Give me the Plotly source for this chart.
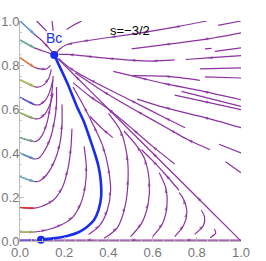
import plotly.graph_objects as go
import math

# ---------------- data ----------------
BC_POINT = (0.155, 0.845)
SADDLE_POINT = (0.095, 0.006)

blue_x = [0.095, 0.15, 0.213, 0.265, 0.303, 0.335, 0.355, 0.367, 0.365, 0.355, 0.338, 0.318, 0.29, 0.258, 0.213, 0.155]
blue_y = [0.006, 0.012, 0.023, 0.040, 0.064, 0.095, 0.14, 0.20, 0.278, 0.34, 0.40, 0.46, 0.54, 0.61, 0.72, 0.845]

# left-edge streamlines (start colour, points in flow direction)
left_colors = ["#5DA5DA", "#5DBB8A", "#F0882A", "#A9CC48", "#4060D8", "#8CC850",
               "#6CC07A", "#4AA0C8", "#5CC0B0", "#E8302A", "#A0C850", "#6A5ACD"]
left_lines = [
    [(0, 1.0), (0.065, 0.94), (0.095, 0.915), (0.13, 0.878), (0.15, 0.855)],
    [(0, 0.913), (0.065, 0.878), (0.10, 0.865), (0.14, 0.852)],
    [(0, 0.833), (0.065, 0.79), (0.09, 0.782), (0.12, 0.782), (0.138, 0.798)],
    [(0, 0.733), (0.065, 0.702), (0.085, 0.700), (0.11, 0.712), (0.13, 0.74), (0.142, 0.78)],
    [(0, 0.653), (0.065, 0.62), (0.09, 0.62), (0.115, 0.64), (0.135, 0.68), (0.148, 0.73)],
    [(0, 0.583), (0.065, 0.556), (0.09, 0.558), (0.115, 0.58), (0.135, 0.62), (0.15, 0.67)],
    [(0, 0.47), (0.065, 0.452), (0.08, 0.457), (0.10, 0.48), (0.12, 0.53), (0.135, 0.60), (0.145, 0.68), (0.15, 0.75)],
    [(0, 0.40), (0.065, 0.373), (0.085, 0.377), (0.105, 0.40), (0.135, 0.46), (0.155, 0.54), (0.165, 0.62), (0.165, 0.70)],
    [(0, 0.293), (0.065, 0.27), (0.09, 0.274), (0.12, 0.30), (0.155, 0.36), (0.18, 0.44), (0.19, 0.53), (0.19, 0.62)],
    [(0, 0.152), (0.065, 0.149), (0.10, 0.158), (0.15, 0.185), (0.19, 0.24), (0.215, 0.32), (0.23, 0.42), (0.235, 0.51)],
    [(0, 0.041), (0.065, 0.041), (0.12, 0.05), (0.19, 0.075), (0.24, 0.11), (0.275, 0.17), (0.295, 0.25), (0.30, 0.34), (0.29, 0.43)],
    [(0, 0.004), (0.065, 0.004), (0.085, 0.004)],
]

# purple streamlines, points in flow direction
purple_lines = [
    # fan above the diagonal, flowing towards Bc
    [(0.845, 1.0), (0.70, 0.972), (0.56, 0.948), (0.41, 0.926), (0.285, 0.908), (0.213, 0.893), (0.18, 0.873), (0.162, 0.852)],
    [(1.0, 1.0), (0.896, 0.98)],
    [(1.0, 0.946), (0.83, 0.915), (0.656, 0.893), (0.505, 0.873)],
    [(0.867, 0.876), (0.837, 0.873)],
    [(1.0, 0.878), (0.882, 0.862)],
    [(1.0, 0.843), (0.85, 0.832), (0.75, 0.825)],
    [(0.70, 0.823), (0.60, 0.818), (0.50, 0.822), (0.40, 0.83), (0.30, 0.84), (0.22, 0.848), (0.175, 0.848)],
    [(1.0, 0.787), (0.814, 0.782)],
    [(1.0, 0.741), (0.837, 0.746)],
    [(0.814, 0.73), (0.656, 0.749), (0.51, 0.752)],
    [(1.0, 0.642), (0.83, 0.68), (0.656, 0.715), (0.55, 0.74), (0.422, 0.771)],
    [(1.0, 0.612), (0.731, 0.68)],
    [(1.0, 0.597), (0.83, 0.635), (0.70, 0.663)],
    [(1.0, 0.515), (0.83, 0.563), (0.656, 0.606), (0.53, 0.645)],
    [(0.747, 0.515), (0.656, 0.56), (0.50, 0.64), (0.317, 0.733), (0.22, 0.79), (0.175, 0.83)],
    [(0.86, 0.415), (0.76, 0.46), (0.679, 0.506), (0.53, 0.59), (0.377, 0.680), (0.25, 0.765)],
    [(1.0, 0.31), (0.93, 0.36)],
    [(1.0, 0.40), (0.90, 0.44)],
    [(0.70, 0.35), (0.60, 0.43), (0.513, 0.506), (0.40, 0.60), (0.317, 0.657), (0.24, 0.72)],
    [(0.42, 0.47), (0.377, 0.506), (0.317, 0.566)],
    # separatrix from (1, 0) to Bc
    [(1.0, 0.0), (0.80, 0.20), (0.60, 0.40), (0.40, 0.60), (0.25, 0.75), (0.17, 0.83)],
    # arcs between blue curve and separatrix
    [(0.31, 0.03), (0.36, 0.07), (0.395, 0.14), (0.41, 0.23), (0.40, 0.33), (0.375, 0.43), (0.335, 0.52), (0.29, 0.61), (0.24, 0.70)],
    [(0.38, 0.012), (0.44, 0.06), (0.475, 0.155), (0.489, 0.278), (0.484, 0.39), (0.455, 0.50), (0.40, 0.58)],
    [(0.50, 0.02), (0.55, 0.08), (0.58, 0.17), (0.585, 0.27), (0.565, 0.37), (0.53, 0.43), (0.47, 0.50)],
    [(0.60, 0.02), (0.645, 0.08), (0.665, 0.16), (0.66, 0.24), (0.63, 0.31)],
    [(0.70, 0.02), (0.74, 0.07), (0.755, 0.13), (0.74, 0.19), (0.72, 0.22)],
    [(0.79, 0.03), (0.83, 0.07), (0.835, 0.11), (0.82, 0.14)],
    [(0.86, 0.015), (0.885, 0.035), (0.88, 0.055)],
    [(0.72, 0.23), (0.66, 0.30), (0.60, 0.365), (0.55, 0.415)],
    # upper-left short lines towards Bc
    [(0.075, 1.0), (0.10, 0.975), (0.121, 0.954)],
    [(0.145, 1.0), (0.15, 0.955)],
    [(0.279, 1.0), (0.24, 0.98), (0.211, 0.961)],
    # bottom line along the m axis
    [(1.0, 0.004), (0.75, 0.004), (0.50, 0.004), (0.30, 0.004), (0.11, 0.004)],
]

x_ticks = [0.0, 0.2, 0.4, 0.6, 0.8, 1.0]
y_ticks = [0.0, 0.2, 0.4, 0.6, 0.8, 1.0]

PURPLE = "rgb(140,50,160)"
BLUE = "rgb(25,45,235)"

fig = go.Figure()


def arrow_sizes(pts, spacing=0.09, size=5):
    sizes = [0] * len(pts)
    acc = 0.0
    for i in range(1, len(pts) - 1):
        acc += math.dist(pts[i], pts[i - 1])
        if acc >= spacing * 0.6:
            sizes[i] = size
            acc = 0.0
    return sizes


def add_stream(pts, color):
    fig.add_trace(go.Scatter(
        x=[p[0] for p in pts], y=[p[1] for p in pts],
        mode="lines+markers",
        line=dict(color=color, width=1.2, shape="spline", smoothing=0.8),
        marker=dict(symbol="arrow", size=arrow_sizes(pts), color=color,
                    angleref="previous", line=dict(width=0)),
        hoverinfo="skip", cliponaxis=False, showlegend=False))


for pts in purple_lines:
    add_stream(pts, PURPLE)

for pts, col in zip(left_lines, left_colors):
    add_stream(pts, PURPLE)
    seg = pts[:2]
    fig.add_trace(go.Scatter(
        x=[p[0] for p in seg], y=[p[1] for p in seg], mode="lines",
        line=dict(color=col, width=1.4), hoverinfo="skip",
        cliponaxis=False, showlegend=False))

fig.add_trace(go.Scatter(x=blue_x, y=blue_y, mode="lines",
                         line=dict(color=BLUE, width=2.6, shape="spline", smoothing=0.6),
                         hoverinfo="skip", cliponaxis=False, showlegend=False))
fig.add_trace(go.Scatter(x=[BC_POINT[0], SADDLE_POINT[0]], y=[BC_POINT[1], SADDLE_POINT[1]],
                         mode="markers", marker=dict(color=BLUE, size=8),
                         hoverinfo="skip", cliponaxis=False, showlegend=False))

fig.add_annotation(x=0.156, y=0.925, text="Bc", showarrow=False,
                   font=dict(color=BLUE, size=14, family="Liberation Sans"))
fig.add_annotation(x=0.498, y=0.959, text="s=−3/2", showarrow=False,
                   font=dict(color="black", size=13, family="Liberation Sans"))
fig.add_annotation(x=0.0, y=1.045, text="Ω<sub>vac</sub>", showarrow=False,
                   font=dict(color="#555", size=12, family="Liberation Sans"))
fig.add_annotation(x=1.01, y=0.005, xanchor="left", text="Ω<sub><i>m</i></sub>", showarrow=False,
                   font=dict(color="#555", size=12, family="Liberation Sans"))

axis_common = dict(range=[0, 1], showgrid=False, zeroline=False, showline=True,
                   linecolor="#bbb", linewidth=1, ticks="inside", ticklen=4,
                   tickcolor="#bbb", tickformat=".1f", automargin=False,
                   tickfont=dict(color="#777", size=13, family="Liberation Sans"),
                   minor=dict(ticks="inside", ticklen=2, tickcolor="#ccc", dtick=0.05))
fig.update_xaxes(tickvals=x_ticks, ticklabelstandoff=-1, **axis_common)
fig.update_yaxes(tickvals=y_ticks, ticklabelstandoff=-3, **axis_common)

fig.update_layout(width=266, height=261, margin=dict(l=20, r=25, t=21, b=20),
                  plot_bgcolor="white", paper_bgcolor="white", showlegend=False)

fig.write_html("out.html", config={"displayModeBar": False},
               post_script="document.body.style.margin='0';document.body.style.overflow='hidden';")
